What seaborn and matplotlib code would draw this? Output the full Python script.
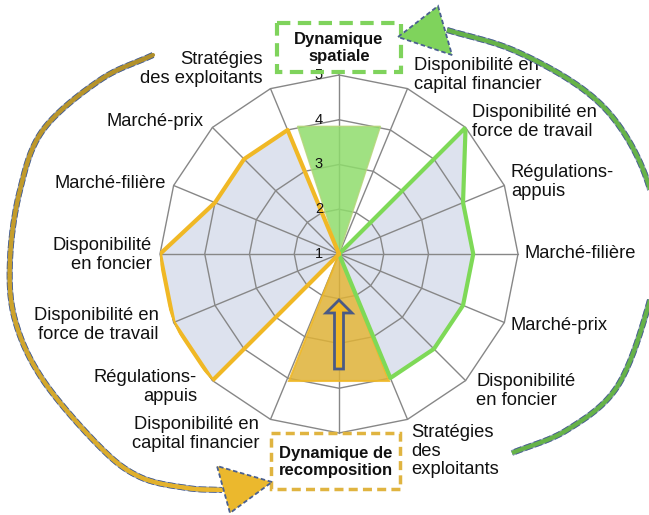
import numpy as np
import pandas as pd
import matplotlib
matplotlib.use("Agg")
import matplotlib.pyplot as plt
import matplotlib.transforms as mtransforms
from matplotlib.patches import Polygon, Rectangle, FancyArrow
from matplotlib.collections import LineCollection
import seaborn as sns

# ---------------- data ----------------
categories = ["Dynamique spatiale",
              "Disponibilité en\ncapital financier",
              "Disponibilité en\nforce de travail",
              "Régulations-\nappuis",
              "Marché-filière",
              "Marché-prix",
              "Disponibilité\nen foncier",
              "Stratégies\ndes\nexploitants",
              "Dynamique de recomposition",
              "Disponibilité en\ncapital financier",
              "Régulations-\nappuis",
              "Disponibilité en\nforce de travail",
              "Disponibilité\nen foncier",
              "Marché-filière",
              "Marché-prix",
              "Stratégies\ndes exploitants"]
profile_values = [1, 1, 5, 4, 4, 4, 4, 4, 1, 1, 5, 5, 5, 4, 4, 4]
spatial_side_idx = [1, 2, 3, 4, 5, 6, 7, 8]
recompo_side_idx = [9, 10, 11, 12, 13, 14, 15, 16]
scale_ticks = [1, 2, 3, 4, 5]
spatial_triangle_value = 4.0
spatial_triangle_halfangle = 18.0
recompo_triangle_value = 4.05
recompo_triangle_halfangle = 21.5
box_spatial = "Dynamique\nspatiale"
box_recompo = "Dynamique de\nrecomposition"

# ---------------- style ----------------
sns.set_theme(style="white")
plt.rcParams['font.family'] = ['Liberation Sans', 'DejaVu Sans']

W, H = 649, 515
cx, cy, R = 339, 254, 179
fig = plt.figure(figsize=(W / 100, H / 100), dpi=100)
ax = fig.add_axes([(cx - R) / W, (H - cy - R) / H, 2 * R / W, 2 * R / H],
                  projection='polar')
ax.set_theta_zero_location('N')
ax.set_theta_direction(-1)
ax.set_ylim(1, 5)
ax.set_axis_off()

n = len(categories)
theta = np.arange(n) * 2 * np.pi / n
theta_ext = np.append(theta, 2 * np.pi)
vals = np.array(profile_values, dtype=float)
vals_ext = np.append(vals, vals[0])

GRID = '#878787'
GREEN = '#7ed957'
ORANGE = '#f0b825'

# profile polygon
ax.fill(theta_ext, vals_ext, color='#dde2ee', lw=0, zorder=1)
ax.plot(theta_ext, vals_ext, color='#1a1a1a', lw=0.8, zorder=1.5)

# polygonal grid
for lvl in scale_ticks[1:]:
    ax.plot(theta_ext, [lvl] * (n + 1), color=GRID, lw=1.0, zorder=2, clip_on=False)
for t in theta:
    ax.plot([t, t], [1, 5], color=GRID, lw=1.0, zorder=2, clip_on=False)

# triangles
ha_s = np.deg2rad(spatial_triangle_halfangle)
ax.fill([0, -ha_s, ha_s, 0], [1, spatial_triangle_value, spatial_triangle_value, 1],
        facecolor='#8fdc6c', edgecolor='#b5d67a', lw=1.0, alpha=0.85, zorder=3)
ha_r = np.deg2rad(recompo_triangle_halfangle)
ax.fill([np.pi, np.pi - ha_r, np.pi + ha_r, np.pi],
        [1, recompo_triangle_value, recompo_triangle_value, 1],
        facecolor='#dfb237', edgecolor=ORANGE, lw=1.5, alpha=0.85, zorder=3)

# outlines through seaborn
right_df = pd.DataFrame({'theta': theta_ext[spatial_side_idx], 'value': vals_ext[spatial_side_idx]})
left_df = pd.DataFrame({'theta': theta_ext[recompo_side_idx], 'value': vals_ext[recompo_side_idx]})
sns.lineplot(data=right_df, x='theta', y='value', sort=False, estimator=None,
             color=GREEN, lw=3, ax=ax, zorder=4)
sns.lineplot(data=left_df, x='theta', y='value', sort=False, estimator=None,
             color=ORANGE, lw=3, ax=ax, zorder=4)
ax.set_xlabel('')
ax.set_ylabel('')

# scale labels
off = mtransforms.offset_copy(ax.transData, fig=fig, x=-16, y=0, units='dots')
for v in scale_ticks:
    ax.text(0, v, str(v), transform=off, ha='right', va='center', fontsize=10.5,
            color='#111111', zorder=6)

# ---------------- overlay (annotations) ----------------
ov = fig.add_axes([0, 0, 1, 1], zorder=10)
ov.set_xlim(0, W)
ov.set_ylim(H, 0)
ov.axis('off')

label_layout = {
    1: (414, 75, 'left'), 2: (472, 122, 'left'), 3: (511, 182, 'left'),
    4: (524, 254, 'left'), 5: (510, 326, 'left'), 6: (476, 391, 'left'),
    7: (411, 451, 'left'),
    9: (259, 434, 'right'), 10: (197, 387, 'right'), 11: (159, 325, 'right'),
    12: (152, 255, 'right'), 13: (166, 183, 'right'), 14: (204, 122, 'right'),
    15: (263, 69, 'right'),
}
for i, (x, y, al) in label_layout.items():
    ov.text(x, y, categories[i], ha=al, va='center', multialignment=al,
            fontsize=13.2, linespacing=1.08, color='#111111')

# boxes
ov.add_patch(Rectangle((277, 23), 124, 49, fill=False, ec='#7fd35c', lw=3,
                       ls=(0, (3.2, 1.8))))
ov.text(339, 48, box_spatial, ha='center', va='center', fontsize=12,
        fontweight='bold', linespacing=1.12, color='#111111')
ov.add_patch(Rectangle((271, 433), 129, 56, fill=False, ec='#e0b440', lw=2.5,
                       ls=(0, (2.6, 1.5))))
ov.text(335.5, 462, box_recompo, ha='center', va='center', fontsize=12,
        fontweight='bold', linespacing=1.12, color='#111111')

# upward arrow in recomposition triangle
ov.add_patch(FancyArrow(339, 369, 0, -69, width=9, head_width=26, head_length=13,
                        length_includes_head=True, fc=ORANGE, ec='#4a5a85', lw=2,
                        zorder=5))


def catmull(pts, steps=20):
    p = np.asarray(pts, dtype=float)
    p = np.vstack([2 * p[0] - p[1], p, 2 * p[-1] - p[-2]])
    out = []
    for k in range(1, len(p) - 2):
        p0, p1, p2, p3 = p[k - 1], p[k], p[k + 1], p[k + 2]
        for t in np.linspace(0, 1, steps, endpoint=False):
            t2, t3 = t * t, t * t * t
            out.append(0.5 * ((2 * p1) + (-p0 + p2) * t + (2 * p0 - 5 * p1 + 4 * p2 - p3) * t2
                              + (-p0 + 3 * p1 - 3 * p2 + p3) * t3))
    out.append(p[-2])
    return np.array(out)


OUT = '#4a6090'
OUT_LIGHT = '#9aa8c6'
DASH = (0, (1.3, 0.45))
right_arc = catmull([(447, 30), (513, 50), (580, 87), (620, 127), (648, 183), (658, 245),
                     (648, 307), (617, 387), (567, 430), (512, 453)])
ov.plot(right_arc[:, 0], right_arc[:, 1], color=OUT_LIGHT, lw=4.3, zorder=2.9,
        solid_capstyle='butt')
ov.plot(right_arc[:, 0], right_arc[:, 1], color=OUT, lw=4.3, ls=DASH, zorder=3)
ov.plot(right_arc[:, 0], right_arc[:, 1], color='#66b348', lw=3.0, zorder=4,
        solid_capstyle='butt')
ov.add_patch(Polygon([[398, 37], [438, 6], [452, 55]], closed=True, fc='#7fd35c',
                     ec=OUT, lw=1.3, ls=(0, (2.5, 1.5)), zorder=5))

left_arc = catmull([(153, 55), (100, 80), (43, 130), (20, 190), (10, 260), (15, 320),
                    (43, 380), (100, 447), (140, 477), (187, 488), (222, 490)])
ov.plot(left_arc[:, 0], left_arc[:, 1], color=OUT_LIGHT, lw=4.3, zorder=2.9,
        solid_capstyle='butt')
ov.plot(left_arc[:, 0], left_arc[:, 1], color=OUT, lw=4.3, ls=DASH, zorder=3)
segs = np.stack([left_arc[:-1], left_arc[1:]], axis=1)
c0 = np.array([0xb0, 0x8f, 0x2a]) / 255
c1 = np.array([0xec, 0xb8, 0x2d]) / 255
fr = np.linspace(0, 1, len(segs))[:, None]
cols = c0 * (1 - fr) + c1 * fr
ov.add_collection(LineCollection(segs, colors=cols, linewidths=3.0, zorder=4,
                                 capstyle='round'))
ov.add_patch(Polygon([[272, 482], [217, 466], [230, 513]], closed=True, fc='#ebb82d',
                     ec=OUT, lw=1.3, ls=(0, (2.5, 1.5)), zorder=5))

fig.savefig('out.png', dpi=100)
